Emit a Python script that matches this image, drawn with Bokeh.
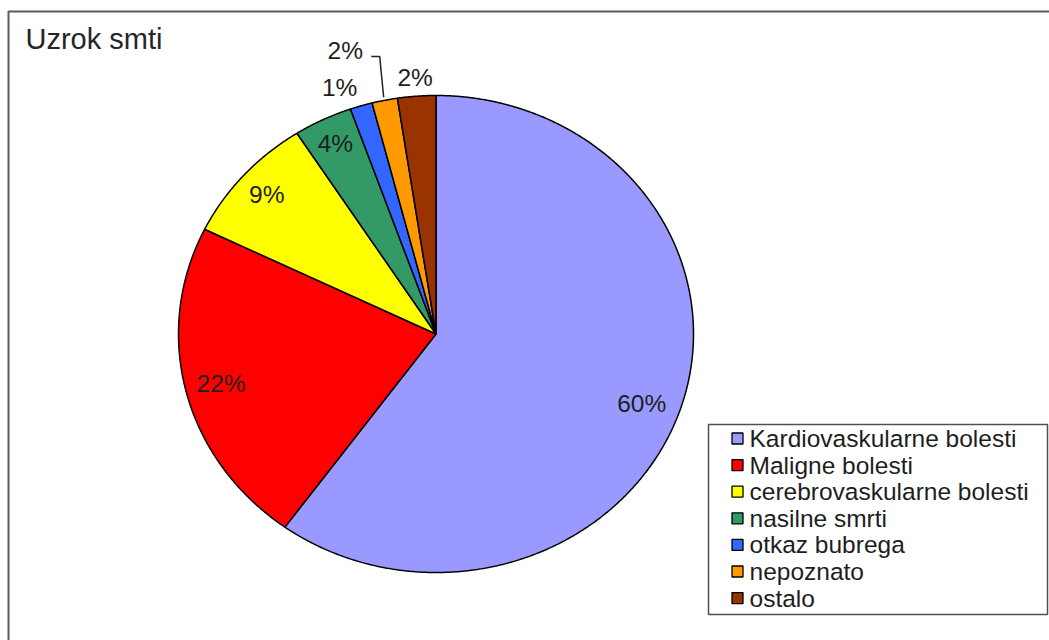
import numpy as np
from bokeh.plotting import figure
from bokeh.models import Range1d
from bokeh.core.properties import value
from bokeh.embed import file_html
from bokeh.resources import INLINE

# ---- data ----
categories = ["Kardiovaskularne bolesti", "Maligne bolesti", "cerebrovaskularne bolesti",
              "nasilne smrti", "otkaz bubrega", "nepoznato", "ostalo"]
shares = [60.1, 22.3, 8.7, 3.7, 1.4, 1.6, 2.4]
pct_labels = ["60%", "22%", "9%", "4%", "1%", "2%", "2%"]
colors = ["#9999FF", "#FF0000", "#FFFF00", "#339966", "#3366FF", "#FF9900", "#993300"]
title_text = "Uzrok smti"

# ---- layout ----
W, H = 1049, 640
CX, CY, RX, RY = 435.5, 333.5, 257.5, 238.5
label_r = [0.85, 0.86, 0.88, 0.89, 1.10, 1.24, 1.08]
label_shift_deg = [2, 0, 0, 0, -3, -5, 0]
FONT = value("Liberation Sans")
TXT = "#1e1e1e"

p = figure(width=W, height=H, x_range=Range1d(0, W), y_range=Range1d(H, 0),
           output_backend="svg", toolbar_location=None, min_border=0,
           x_axis_location=None, y_axis_location=None)
p.grid.visible = False
p.outline_line_color = None
p.background_fill_color = "white"
p.border_fill_color = "white"

# outer frame (only left/top visible, rest cropped)
p.quad(left=[8], right=[W + 60], top=[11], bottom=[H + 60],
       fill_color=None, line_color="#5a5a5a", line_width=2)

# pie slices (elliptical, clockwise from 12 o'clock)
vals = np.array(shares, dtype=float)
frac = vals / vals.sum() * 2 * np.pi
ends = np.cumsum(frac)
starts = ends - frac
xs, ys = [], []
for s, e in zip(starts, ends):
    n = max(int((e - s) / 0.005), 3)
    t = np.linspace(s, e, n)
    xs.append([CX] + list(CX + RX * np.sin(t)) + [CX])
    ys.append([CY] + list(CY - RY * np.cos(t)) + [CY])
p.patches(xs=xs, ys=ys, fill_color=colors, line_color="black", line_width=1.5)

# percentage labels
mids = (starts + ends) / 2 + np.radians(label_shift_deg)
lx = CX + np.array(label_r) * RX * np.sin(mids)
ly = CY - np.array(label_r) * RY * np.cos(mids)
p.text(x=lx, y=ly, text=pct_labels, text_font=FONT, text_font_size="24.5px",
       text_align="center", text_baseline="middle", text_color=TXT)

# leader line for the "nepoznato" label
i = 5
mid_o = (starts[i] + ends[i]) / 2
ex, ey = CX + RX * np.sin(mid_o), CY - RY * np.cos(mid_o)
p.line(x=[lx[i] + 26, ex - 5, ex - 1], y=[ly[i] + 6, ly[i] + 6, ey - 3],
       line_color="#222222", line_width=1.5)

# title
p.text(x=[25], y=[38], text=[title_text], text_font=FONT, text_font_size="29px",
       text_align="left", text_baseline="middle", text_color="#262626")

# legend (manual, Excel style)
LX0, LX1, LY0, LY1 = 708, 1047, 424, 614
p.quad(left=[LX0], right=[LX1], top=[LY0], bottom=[LY1],
       fill_color="white", line_color="#505050", line_width=1.5)
row_y = [438 + 26.6 * k for k in range(len(categories))]
p.rect(x=[737] * len(categories), y=row_y, width=11, height=11,
       fill_color=colors, line_color="black", line_width=1.3)
p.text(x=[749] * len(categories), y=row_y, text=categories, text_font=FONT,
       text_font_size="24.5px", text_align="left", text_baseline="middle", text_color=TXT)

open("out.html", "w").write(file_html(p, INLINE))
